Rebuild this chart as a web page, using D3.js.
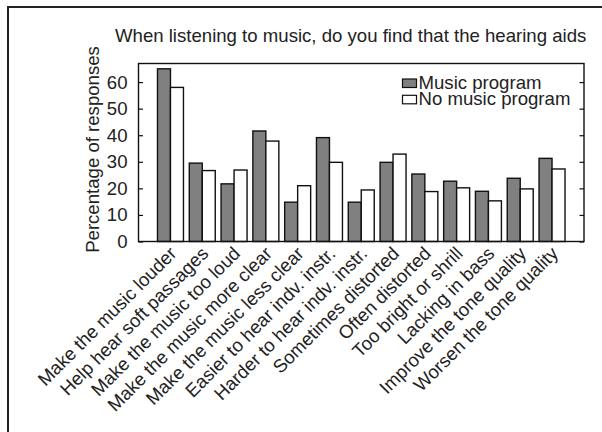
<!DOCTYPE html>
<html>
<head>
<meta charset="utf-8">
<script src="https://cdn.jsdelivr.net/npm/d3@7"></script>
<style>
  html, body { margin: 0; padding: 0; background: #fff; }
  svg { display: block; }
  text { font-family: "Liberation Sans", Arial, Helvetica, sans-serif; fill: #222; }
</style>
</head>
<body>
<div id="chart"></div>
<script>
// Survey answers: "When listening to music, do you find that the hearing aids ..."
const categories = [
  "Make the music louder",
  "Help hear soft passages",
  "Make the music too loud",
  "Make the music more clear",
  "Make the music less clear",
  "Easier to hear indv. instr.",
  "Harder to hear indv. instr.",
  "Sometimes distorted",
  "Often distorted",
  "Too bright or shrill",
  "Lacking in bass",
  "Improve the tone quality",
  "Worsen the tone quality"
];
const seriesNames = ["Music program", "No music program"];
const musicProgram   = [65, 29.5, 21.7, 41.6, 14.8, 39.1, 14.8, 29.8, 25.4, 22.7, 18.9, 23.8, 31.3];
const noMusicProgram = [58, 26.7, 26.9, 37.8, 21.0, 29.8, 19.4, 32.9, 18.8, 20.2, 15.3, 19.8, 27.3];
const yTicks = [0, 10, 20, 30, 40, 50, 60];
const titleText = "When listening to music, do you find that the hearing aids";
const yLabel = "Percentage of responses";

const W = 602, H = 432;
const plot = { left: 138.5, right: 584, top: 63.5, bottom: 241.5 };
const fills = ["#808080", "#ffffff"];
const FONT = 18.6;

const svg = d3.select("#chart").append("svg")
  .attr("width", W).attr("height", H);

// outer frame (runs off the right and bottom edges)
svg.append("rect")
  .attr("x", 8).attr("y", 7)
  .attr("width", W + 20).attr("height", H + 20)
  .attr("fill", "none").attr("stroke", "#222").attr("stroke-width", 2);

const x = d3.scaleBand()
  .domain(categories)
  .range([plot.left, plot.right])
  .paddingInner(0.183)
  .paddingOuter(0.597);

const xs = d3.scaleBand()
  .domain(seriesNames)
  .range([0, x.bandwidth()]);

const y = d3.scaleLinear()
  .domain([0, 67])
  .range([plot.bottom, plot.top]);

const rows = categories.map((c, i) => ({
  cat: c,
  vals: [
    { s: seriesNames[0], v: musicProgram[i], fill: fills[0] },
    { s: seriesNames[1], v: noMusicProgram[i], fill: fills[1] }
  ]
}));

// bars
const g = svg.append("g");
g.selectAll("g.grp").data(rows).join("g")
  .attr("class", "grp")
  .attr("transform", d => `translate(${x(d.cat)},0)`)
  .selectAll("rect").data(d => d.vals).join("rect")
  .attr("x", d => xs(d.s))
  .attr("y", d => y(d.v))
  .attr("width", xs.bandwidth())
  .attr("height", d => y(0) - y(d.v))
  .attr("fill", d => d.fill)
  .attr("stroke", "#111")
  .attr("stroke-width", 1.4);

// plot box
svg.append("rect")
  .attr("x", plot.left).attr("y", plot.top)
  .attr("width", plot.right - plot.left).attr("height", plot.bottom - plot.top)
  .attr("fill", "none").attr("stroke", "#111").attr("stroke-width", 1.4);

// left axis: inward ticks
const leftAxis = d3.axisLeft(y).tickValues(yTicks).tickSizeInner(-4.5).tickSizeOuter(0).tickPadding(11);
const la = svg.append("g").attr("transform", `translate(${plot.left},0)`).call(leftAxis);
la.select(".domain").remove();
la.selectAll("line").attr("stroke", "#111").attr("stroke-width", 1.2);
la.selectAll("text").attr("font-size", FONT).attr("fill", "#222")
  .attr("font-family", "'Liberation Sans', Arial, sans-serif");

// right axis: inward ticks, no labels
const rightAxis = d3.axisRight(y).tickValues(yTicks).tickSizeInner(-4.5).tickSizeOuter(0).tickFormat("");
const ra = svg.append("g").attr("transform", `translate(${plot.right},0)`).call(rightAxis);
ra.select(".domain").remove();
ra.selectAll("line").attr("stroke", "#111").attr("stroke-width", 1.2);

// category labels, rotated
svg.append("g").selectAll("text").data(categories).join("text")
  .attr("transform", d => `translate(${x(d) + x.bandwidth() / 2 - 2},${plot.bottom + 4}) rotate(-45)`)
  .attr("text-anchor", "end")
  .attr("dy", "0.7em")
  .attr("font-size", FONT)
  .text(d => d);

// title
svg.append("text")
  .attr("x", 115).attr("y", 42)
  .attr("font-size", FONT)
  .text(titleText);

// y label
svg.append("text")
  .attr("transform", `translate(99,${(plot.top + plot.bottom) / 2 - 3}) rotate(-90)`)
  .attr("text-anchor", "middle")
  .attr("font-size", FONT)
  .text(yLabel);

// legend
const legend = svg.append("g").attr("transform", "translate(402,0)");
const li = legend.selectAll("g").data(seriesNames).join("g")
  .attr("transform", (d, i) => `translate(0,${89 + i * 16.3})`);
li.append("rect")
  .attr("x", 0.5).attr("y", -10).attr("width", 14).attr("height", 8.5)
  .attr("fill", (d, i) => fills[i]).attr("stroke", "#111").attr("stroke-width", 1.2);
li.append("text")
  .attr("x", 16.5).attr("y", 0)
  .attr("font-size", FONT)
  .text(d => d);
</script>
</body>
</html>
